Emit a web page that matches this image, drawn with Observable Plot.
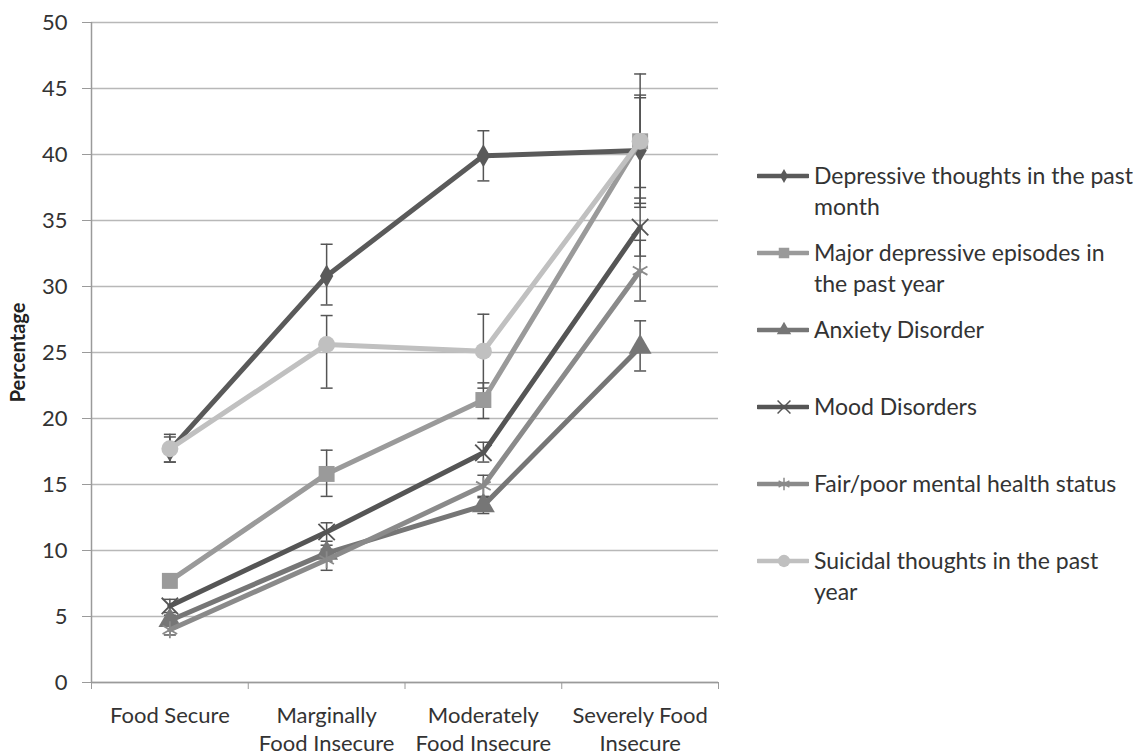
<!DOCTYPE html>
<html>
<head>
<meta charset="utf-8">
<script src="https://cdn.jsdelivr.net/npm/d3@7"></script>
<script src="https://cdn.jsdelivr.net/npm/@observablehq/plot@0.6"></script>
<style>
  html, body { margin: 0; padding: 0; background: #fff; }
  #wrap { position: relative; width: 1146px; height: 755px; font-family: Lato, "Open Sans", sans-serif; color: #333; }
  #legend { position: absolute; left: 757px; top: 160px; }
  .item { height: 77px; display: flex; align-items: flex-start; }
  .item svg { flex: none; margin-top: 5px; }
  .item span { margin-left: 5px; font-size: 23px; line-height: 31px; white-space: nowrap; color: #333; }
</style>
</head>
<body>
<div id="wrap"><div id="chart"></div><div id="legend"></div></div>
<script>
const categories = ["Food Secure", "Marginally\nFood Insecure", "Moderately\nFood Insecure", "Severely Food\nInsecure"];
const seriesNames = ["Depressive thoughts in the past\nmonth", "Major depressive episodes in\nthe past year", "Anxiety Disorder", "Mood Disorders", "Fair/poor mental health status", "Suicidal thoughts in the past\nyear"];
const seriesColors = ["#5a5a5a", "#9a9a9a", "#767676", "#555555", "#8a8a8a", "#c0c0c0"];
const seriesSymbols = ["diamond", "square", "triangle", "times", "asterisk", "circle"];

const depressiveThoughts = [17.6, 30.8, 39.9, 40.3];
const depressiveThoughtsLo = [16.7, 28.6, 38.0, 36.3];
const depressiveThoughtsHi = [18.6, 33.2, 41.8, 44.3];
const majorDepressive = [7.7, 15.8, 21.4, 41.0];
const majorDepressiveLo = [7.2, 14.1, 20.0, 37.5];
const majorDepressiveHi = [8.2, 17.6, 22.7, 44.5];
const anxiety = [4.7, 9.8, 13.4, 25.4];
const anxietyLo = [4.3, 9.2, 12.8, 23.6];
const anxietyHi = [5.1, 10.4, 14.0, 27.4];
const mood = [5.8, 11.4, 17.4, 34.5];
const moodLo = [5.3, 10.7, 16.7, 32.3];
const moodHi = [6.3, 12.1, 18.2, 36.7];
const fairPoor = [4.0, 9.3, 14.9, 31.2];
const fairPoorLo = [3.6, 8.5, 14.1, 28.9];
const fairPoorHi = [4.4, 10.1, 15.7, 33.5];
const suicidal = [17.7, 25.6, 25.1, 41.0];
const suicidalLo = [16.7, 22.3, 22.3, 36.0];
const suicidalHi = [18.8, 27.8, 27.9, 46.1];

const yTicks = [0, 5, 10, 15, 20, 25, 30, 35, 40, 45, 50];
const yLabel = "Percentage";

const values = [depressiveThoughts, majorDepressive, anxiety, mood, fairPoor, suicidal];
const lows = [depressiveThoughtsLo, majorDepressiveLo, anxietyLo, moodLo, fairPoorLo, suicidalLo];
const highs = [depressiveThoughtsHi, majorDepressiveHi, anxietyHi, moodHi, fairPoorHi, suicidalHi];

const capSymbol = { draw(ctx, size) { const w = 6; ctx.moveTo(-w, 0); ctx.lineTo(w, 0); } };
const symbolR = { diamond: 7, square: 9, triangle: 8.5, times: 7.5, asterisk: 8, circle: 8.5 };
const strokeSymbols = new Set(["times", "asterisk"]);

const marks = [
  Plot.gridY(yTicks, { stroke: "#b8b8b8", strokeOpacity: 1, strokeWidth: 1.5 }),
  Plot.ruleX([0], { stroke: "#9a9a9a", strokeWidth: 1.5 }),
  Plot.ruleY([0], { stroke: "#9a9a9a", strokeWidth: 1.5 }),
  Plot.axisY({ ticks: yTicks, tickSize: 9, tickPadding: 15, stroke: "#9a9a9a", fill: "#333", label: null }),
  Plot.axisX({ ticks: [0, 1, 2, 3, 4], tickSize: 7, tickFormat: () => "", stroke: "#9a9a9a", label: null }),
  Plot.axisX({ ticks: categories.map((c, i) => i + 0.5), tickSize: 0, tickPadding: 20, fill: "#333",
    tickFormat: v => categories[Math.floor(v)], lineHeight: 1.3, label: null }),
  Plot.text([yLabel], { text: d => d, frameAnchor: "left", textAnchor: "middle", rotate: -90, dx: -73,
    fontWeight: "bold", fontSize: 20, fill: "#222" })
];

values.forEach((vals, s) => {
  const rows = vals.map((v, i) => ({ x: i + 0.5, y: v, lo: lows[s][i], hi: highs[s][i] }));
  marks.push(Plot.ruleX(rows, { x: "x", y1: "lo", y2: "hi", stroke: "#555", strokeWidth: 1.5 }));
  marks.push(Plot.dot(rows, { x: "x", y: "lo", symbol: capSymbol, stroke: "#555", strokeWidth: 1.5, r: 5 }));
  marks.push(Plot.dot(rows, { x: "x", y: "hi", symbol: capSymbol, stroke: "#555", strokeWidth: 1.5, r: 5 }));
});
values.forEach((vals, s) => {
  const rows = vals.map((v, i) => ({ x: i + 0.5, y: v }));
  const sym = seriesSymbols[s];
  marks.push(Plot.line(rows, { x: "x", y: "y", stroke: seriesColors[s], strokeWidth: 5, strokeLinejoin: "round" }));
  if (strokeSymbols.has(sym)) {
    marks.push(Plot.dot(rows, { x: "x", y: "y", symbol: sym, r: symbolR[sym], stroke: seriesColors[s], strokeWidth: 1.8, fill: "none" }));
  } else {
    marks.push(Plot.dot(rows, { x: "x", y: "y", symbol: sym, r: symbolR[sym], fill: seriesColors[s], stroke: "none" }));
  }
});

const chart = Plot.plot({
  width: 1146,
  height: 755,
  marginLeft: 91,
  marginRight: 428,
  marginTop: 22,
  marginBottom: 73,
  style: { fontSize: "22px", fontFamily: "Lato, 'Open Sans', sans-serif", color: "#333", background: "#fff" },
  x: { type: "linear", domain: [0, 4], axis: null },
  y: { domain: [0, 50], axis: null },
  marks
});
document.getElementById("chart").appendChild(chart);

// legend
const legend = d3.select("#legend");
const d3sym = { diamond: d3.symbolDiamond, square: d3.symbolSquare, triangle: d3.symbolTriangle, times: d3.symbolTimes, asterisk: d3.symbolAsterisk, circle: d3.symbolCircle };
const legendSize = { diamond: 55, square: 110, triangle: 90, times: 110, asterisk: 110, circle: 120 };
seriesNames.forEach((name, s) => {
  const item = legend.append("div").attr("class", "item");
  const svg = item.append("svg").attr("width", 52).attr("height", 22);
  svg.append("line").attr("x1", 1).attr("x2", 51).attr("y1", 11).attr("y2", 11)
    .attr("stroke", seriesColors[s]).attr("stroke-width", 4.5).attr("stroke-linecap", "round");
  const sym = seriesSymbols[s];
  const p = svg.append("path").attr("transform", "translate(27,11)")
    .attr("d", d3.symbol(d3sym[sym], legendSize[sym])());
  if (strokeSymbols.has(sym)) p.attr("fill", "none").attr("stroke", seriesColors[s]).attr("stroke-width", 1.5);
  else p.attr("fill", seriesColors[s]);
  item.append("span").html(name.replace("\n", "<br>"));
});
</script>
</body>
</html>
